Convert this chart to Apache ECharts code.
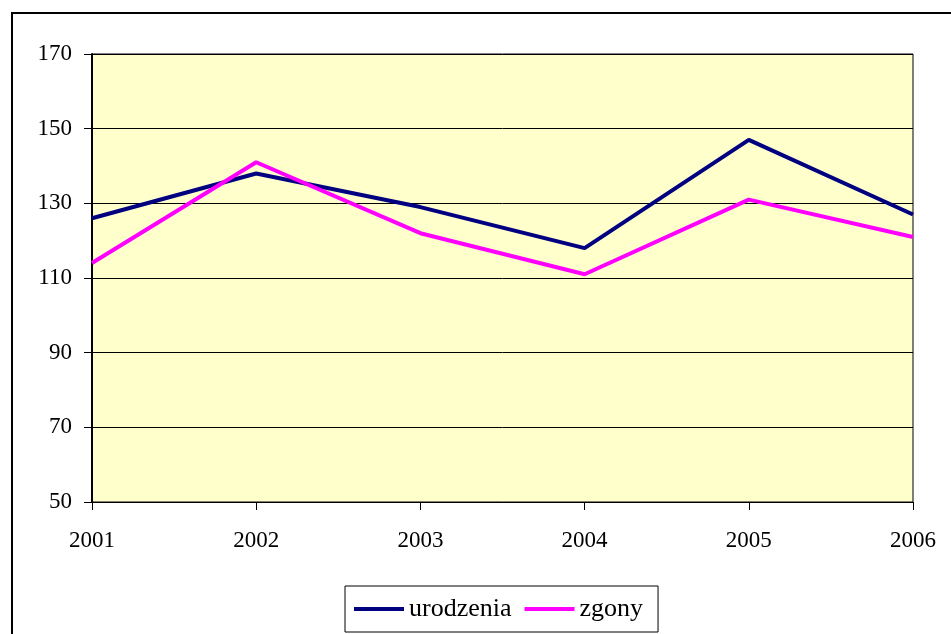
<!DOCTYPE html>
<html>
<head>
<meta charset="utf-8">
<script src="https://cdn.jsdelivr.net/npm/echarts@6/dist/echarts.min.js"></script>
<style>html,body{margin:0;padding:0;background:#fff}#c{width:951px;height:634px}</style>
</head>
<body>
<div id="c"></div>
<script>
const categories = ['2001', '2002', '2003', '2004', '2005', '2006'];
const urodzenia = [126, 138, 129, 118, 147, 127];
const zgony = [114, 141, 122, 111, 131, 121];
const seriesNames = ['urodzenia', 'zgony'];

const chart = echarts.init(document.getElementById('c'), null, {renderer: 'canvas'});
const font = 'Liberation Serif';
chart.setOption({
  animation: false,
  backgroundColor: '#ffffff',
  textStyle: {fontFamily: font},
  graphic: [{
    type: 'rect', silent: true,
    shape: {x: 12, y: 13, width: 1000, height: 1000},
    style: {fill: 'none', stroke: '#000', lineWidth: 2}
  }],
  grid: {
    left: 92, top: 54, right: 38, bottom: 132,
    show: true, backgroundColor: '#FFFFCC', borderColor: '#000', borderWidth: 1
  },
  legend: {
    left: 345, top: 586,
    padding: [10, 15, 10, 9],
    borderColor: '#000', borderWidth: 1, backgroundColor: '#fff',
    itemWidth: 50, itemHeight: 4, itemGap: 13,
    icon: 'rect',
    textStyle: {fontFamily: font, fontSize: 26, color: '#000'},
    data: seriesNames
  },
  xAxis: {
    type: 'category', data: categories, boundaryGap: false,
    axisLine: {lineStyle: {color: '#000', width: 1}},
    axisTick: {show: true, inside: false, length: 8, alignWithLabel: true, lineStyle: {color: '#000'}},
    axisLabel: {fontFamily: font, fontSize: 23, color: '#000', margin: 27},
    splitLine: {show: false}
  },
  yAxis: {
    type: 'value', min: 50, max: 170, interval: 20,
    axisLine: {show: true, lineStyle: {color: '#000', width: 2}},
    axisTick: {show: true, length: 8, lineStyle: {color: '#000'}},
    axisLabel: {fontFamily: font, fontSize: 23, color: '#000', margin: 20},
    splitLine: {show: true, lineStyle: {color: '#000', width: 1}}
  },
  series: [
    {name: seriesNames[0], type: 'line', data: urodzenia, symbol: 'none',
     itemStyle: {color: '#000080'}, lineStyle: {color: '#000080', width: 4}},
    {name: seriesNames[1], type: 'line', data: zgony, symbol: 'none',
     itemStyle: {color: '#FF00FF'}, lineStyle: {color: '#FF00FF', width: 4}}
  ]
});
</script>
</body>
</html>
